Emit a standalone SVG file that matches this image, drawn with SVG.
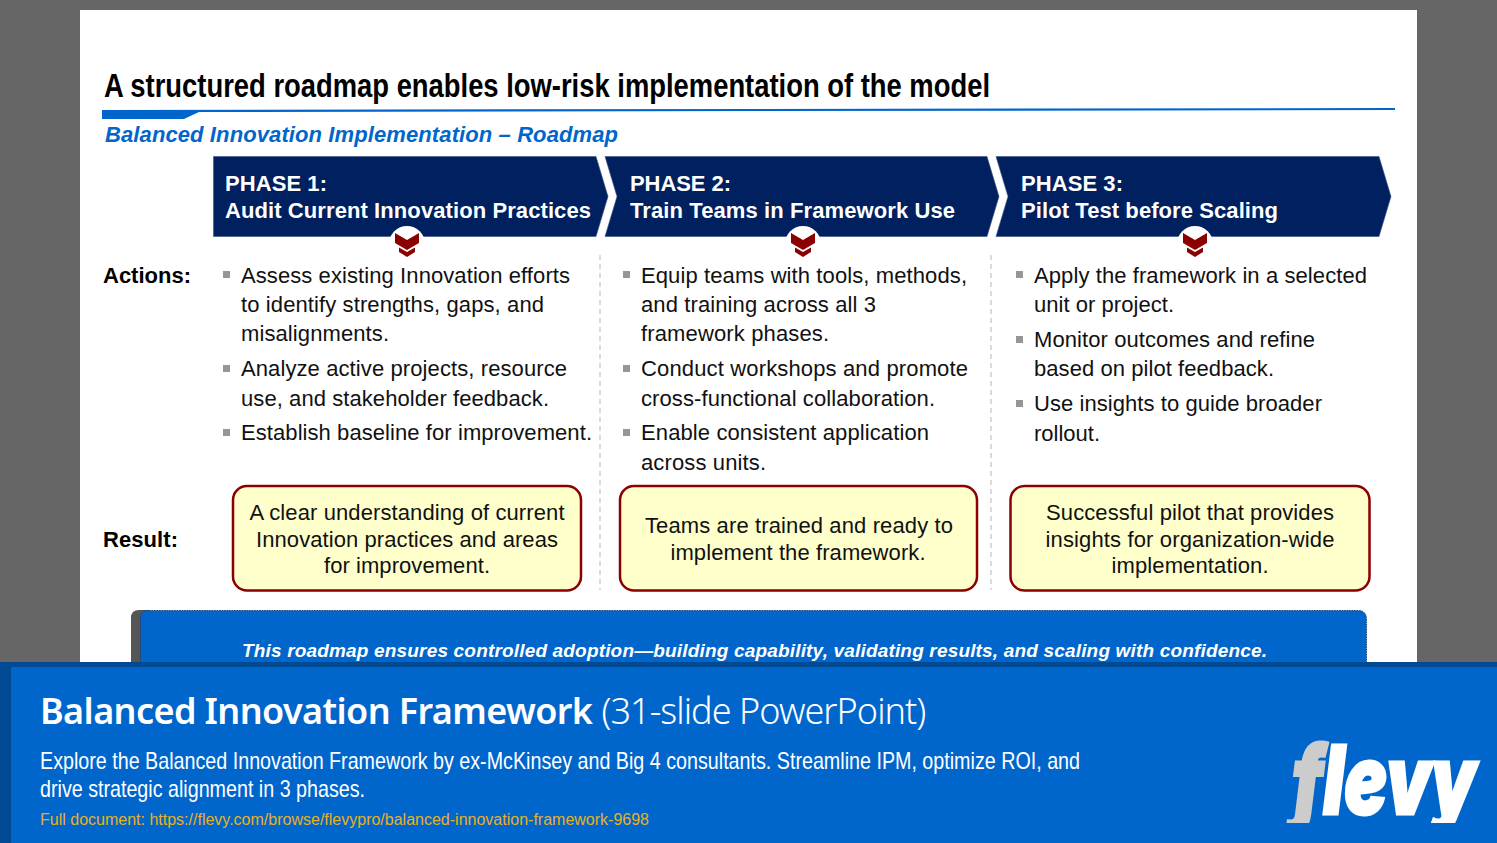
<svg xmlns="http://www.w3.org/2000/svg" width="1497" height="843" viewBox="0 0 1497 843">
<style>
text{font-family:"Liberation Sans",Arial,sans-serif;white-space:pre}
.ph{font-size:22px;font-weight:bold;fill:#fff}
.b{font-size:22px;fill:#111}
.lab{font-size:22px;font-weight:bold;fill:#000}
.r{font-size:22px;fill:#111;text-anchor:middle}
.bul{fill:#969696}
.arrow{fill:#002060;stroke:#3a5285;stroke-width:0.6}
.res{fill:#ffffcc;stroke:#8b0000;stroke-width:2.5}
.sep{stroke:#d0d0d0;stroke-width:1.5;stroke-dasharray:5 4;fill:none}
.foot{font-family:"Noto Sans",sans-serif}
.chev{fill:#8b0000}
</style>
<rect width="1497" height="843" fill="#666666"/>
<rect x="80" y="10" width="1337" height="660" fill="#ffffff"/>
<text x="104" y="96.500" font-size="33" font-weight="bold" fill="#000" textLength="886" lengthAdjust="spacingAndGlyphs">A structured roadmap enables low-risk implementation of the model</text>
<path d="M102 110L1395 108V110L199 112L184 119H102Z" fill="#0066cc"/>
<text x="105" y="142" font-size="22" font-weight="bold" font-style="italic" fill="#0066cc" textLength="513">Balanced Innovation Implementation – Roadmap</text>
<g id="connectors">
<path class="sep" d="M600 255V590"/>
<path class="sep" d="M991 255V590"/>
</g>
<g id="phase1">
<path class="arrow" d="M213.500 156.500H596L608 196.500L596 236.500H213.500Z"/>
<text class="ph"><tspan x="225" y="191" textLength="102">PHASE 1:</tspan><tspan x="225" y="218" textLength="366">Audit Current Innovation Practices</tspan></text>
<circle cx="407" cy="244" r="18" fill="#fff"/>
<path class="chev" d="M395 233L407 240L419 233V243L407 250L395 243Z"/><path class="chev" d="M399 247.500L407 252L415 247.500V252L407 257L399 252Z"/>
</g>
<g id="phase2">
<path class="arrow" d="M605 156.500H987L999 196.500L987 236.500H605L617 196.500Z"/>
<text class="ph"><tspan x="630" y="191" textLength="101">PHASE 2:</tspan><tspan x="630" y="218" textLength="325">Train Teams in Framework Use</tspan></text>
<circle cx="803" cy="244" r="18" fill="#fff"/>
<path class="chev" d="M791 233L803 240L815 233V243L803 250L791 243Z"/><path class="chev" d="M795 247.500L803 252L811 247.500V252L803 257L795 252Z"/>
</g>
<g id="phase3">
<path class="arrow" d="M996 156.500H1379L1391 196.500L1379 236.500H996L1008 196.500Z"/>
<text class="ph"><tspan x="1021" y="191" textLength="102">PHASE 3:</tspan><tspan x="1021" y="218" textLength="257">Pilot Test before Scaling</tspan></text>
<circle cx="1195" cy="244" r="18" fill="#fff"/>
<path class="chev" d="M1183 233L1195 240L1207 233V243L1195 250L1183 243Z"/><path class="chev" d="M1187 247.500L1195 252L1203 247.500V252L1195 257L1187 252Z"/>
</g>
<g id="labels">
<text class="lab" x="103" y="283" textLength="88">Actions:</text>
<text class="lab" x="103" y="547" textLength="75">Result:</text>
</g>
<g id="actions1">
<rect class="bul" x="223" y="271" width="7" height="7"/><rect class="bul" x="223" y="365" width="7" height="7"/><rect class="bul" x="223" y="429" width="7" height="7"/>
<text class="b"><tspan x="241" y="283" textLength="329">Assess existing Innovation efforts</tspan><tspan x="241" y="312" textLength="303">to identify strengths, gaps, and</tspan><tspan x="241" y="341" textLength="148">misalignments.</tspan><tspan x="241" y="376" textLength="326">Analyze active projects, resource</tspan><tspan x="241" y="406" textLength="308">use, and stakeholder feedback.</tspan><tspan x="241" y="440" textLength="351">Establish baseline for improvement.</tspan></text>
</g>
<g id="actions2">
<rect class="bul" x="623" y="271" width="7" height="7"/><rect class="bul" x="623" y="365" width="7" height="7"/><rect class="bul" x="623" y="429" width="7" height="7"/>
<text class="b"><tspan x="641" y="283" textLength="326">Equip teams with tools, methods,</tspan><tspan x="641" y="312" textLength="235">and training across all 3</tspan><tspan x="641" y="341" textLength="188">framework phases.</tspan><tspan x="641" y="376" textLength="327">Conduct workshops and promote</tspan><tspan x="641" y="406" textLength="294">cross-functional collaboration.</tspan><tspan x="641" y="440" textLength="288">Enable consistent application</tspan><tspan x="641" y="470" textLength="125">across units.</tspan></text>
</g>
<g id="actions3">
<rect class="bul" x="1016" y="271" width="7" height="7"/><rect class="bul" x="1016" y="336" width="7" height="7"/><rect class="bul" x="1016" y="400" width="7" height="7"/>
<text class="b"><tspan x="1034" y="283" textLength="333">Apply the framework in a selected</tspan><tspan x="1034" y="312" textLength="140">unit or project.</tspan><tspan x="1034" y="347" textLength="281">Monitor outcomes and refine</tspan><tspan x="1034" y="376" textLength="240">based on pilot feedback.</tspan><tspan x="1034" y="411" textLength="288">Use insights to guide broader</tspan><tspan x="1034" y="441" textLength="66">rollout.</tspan></text>
</g>
<g id="result1">
<rect class="res" x="233" y="486" width="348" height="104.500" rx="14"/>
<text class="r"><tspan x="407" y="520" textLength="315">A clear understanding of current</tspan><tspan x="407" y="547" textLength="302">Innovation practices and areas</tspan><tspan x="407" y="573" textLength="166">for improvement.</tspan></text>
</g>
<g id="result2">
<rect class="res" x="620" y="486" width="357" height="104.500" rx="14"/>
<text class="r"><tspan x="799" y="533" textLength="308">Teams are trained and ready to</tspan><tspan x="798" y="560" textLength="255">implement the framework.</tspan></text>
</g>
<g id="result3">
<rect class="res" x="1010.500" y="486" width="359" height="104.500" rx="14"/>
<text class="r"><tspan x="1190" y="520" textLength="288">Successful pilot that provides</tspan><tspan x="1190" y="547" textLength="289">insights for organization-wide</tspan><tspan x="1190" y="573" textLength="157">implementation.</tspan></text>
</g>
<g id="banner">
<path d="M131 680V618Q131 610 139 610H150V680Z" fill="#555555"/>
<path d="M140.500 680V618Q140.500 610.500 148 610.500H1358Q1366.500 610.500 1366.500 619V680Z" fill="#0066cc" stroke="#1f3f6f" stroke-width="1" stroke-dasharray="1.500 1"/>
<text x="242" y="657" font-size="19" font-weight="bold" font-style="italic" fill="#fff" textLength="1025">This roadmap ensures controlled adoption—building capability, validating results, and scaling with confidence.</text>
</g>
<g id="footer">
<rect x="0" y="662" width="1497" height="181" fill="#004a93"/>
<rect x="11" y="667" width="1486" height="176" fill="#0066cc"/>
<text class="foot" x="40" y="724" font-size="36" fill="#fff"><tspan font-weight="600" textLength="553">Balanced Innovation Framework</tspan><tspan dx="9" font-weight="300" textLength="325">(31-slide PowerPoint)</tspan></text>
<text fill="#fff" font-size="24"><tspan x="40" y="769" textLength="1040" lengthAdjust="spacingAndGlyphs">Explore the Balanced Innovation Framework by ex-McKinsey and Big 4 consultants. Streamline IPM, optimize ROI, and</tspan><tspan x="40" y="797" textLength="325" lengthAdjust="spacingAndGlyphs">drive strategic alignment in 3 phases.</tspan></text>
<text x="40" y="825" font-size="16" fill="#e8b020" textLength="609">Full document: https://flevy.com/browse/flevypro/balanced-innovation-framework-9698</text>
<clipPath id="logoClip"><rect x="1280" y="735" width="205" height="88"/></clipPath>
<g clip-path="url(#logoClip)"><text x="1292" y="814" font-size="95" font-weight="900" font-style="italic" fill="#fff" stroke="#fff" stroke-width="3" textLength="184" lengthAdjust="spacingAndGlyphs" style="font-family:Inter,Roboto,sans-serif"><tspan fill="#cccccc" stroke="#cccccc">f</tspan>levy</text></g>
</g>
</svg>
